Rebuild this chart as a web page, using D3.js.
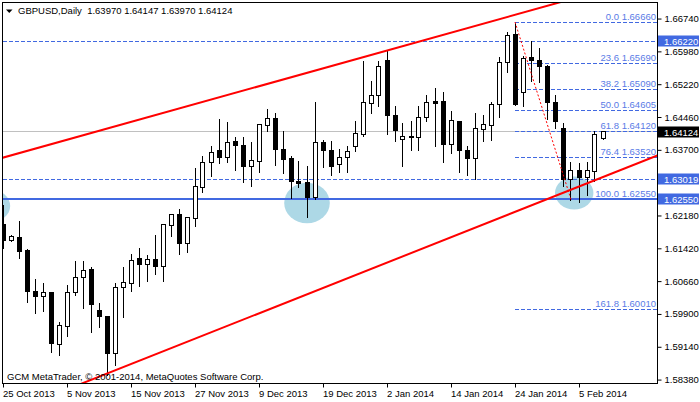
<!DOCTYPE html>
<html>
<head>
<meta charset="utf-8">
<script src="https://cdn.jsdelivr.net/npm/d3@7.9.0/dist/d3.min.js"></script>
<style>
  html, body { margin: 0; padding: 0; background: #fff; }
  svg { display: block; font-family: "Liberation Sans", Arial, sans-serif; }
</style>
</head>
<body>
<svg id="chart" width="700" height="402"></svg>
<script>
// ================================
// Chart data (GBPUSD daily, 76 bars)
// ================================
const symbolTitle = "GBPUSD,Daily";
const lastQuote = "1.63970 1.64147 1.63970 1.64124";
const copyright = "GCM MetaTrader, \u00a9 2001-2014, MetaQuotes Software Corp.";

const opens = [
  1.6198, 1.6161, 1.6168, 1.6137, 1.6043, 1.6031, 1.6039, 1.5920, 1.5962, 1.6039,
  1.6075, 1.6094, 1.5999, 1.5985, 1.5899, 1.6052, 1.6060, 1.6119, 1.6105, 1.6116,
  1.6101, 1.6194, 1.6221, 1.6152, 1.6211, 1.6283, 1.6341, 1.6369, 1.6352, 1.6390,
  1.6381, 1.6331, 1.6343, 1.6426, 1.6443, 1.6371, 1.6349, 1.6296, 1.6295, 1.6259,
  1.6387, 1.6368, 1.6336, 1.6352, 1.6377, 1.6406, 1.6478, 1.6496, 1.6578, 1.6450,
  1.6394, 1.6402, 1.6398, 1.6446, 1.6482, 1.6483, 1.6383, 1.6436, 1.6368, 1.6349,
  1.6417, 1.6427, 1.6476, 1.6573, 1.6636, 1.6502, 1.6584, 1.6578, 1.6564, 1.6480,
  1.6419, 1.6302, 1.6322, 1.6306, 1.6320, 1.63970
];
const highs = [
  1.6244, 1.6173, 1.6206, 1.6141, 1.6072, 1.6063, 1.6042, 1.5973, 1.6059, 1.6114,
  1.6114, 1.6101, 1.6017, 1.5987, 1.6063, 1.6099, 1.6130, 1.6145, 1.6128, 1.6175,
  1.6198, 1.6223, 1.6234, 1.6216, 1.6329, 1.6356, 1.6381, 1.6442, 1.6435, 1.6402,
  1.6402, 1.6390, 1.6430, 1.6465, 1.6456, 1.6415, 1.6358, 1.6346, 1.6333, 1.6483,
  1.6395, 1.6392, 1.6372, 1.6379, 1.6437, 1.6576, 1.6531, 1.6578, 1.6600, 1.6472,
  1.6433, 1.6438, 1.6472, 1.6497, 1.6515, 1.6506, 1.6462, 1.6439, 1.6381, 1.6457,
  1.6451, 1.6482, 1.6585, 1.6644, 1.6666, 1.6588, 1.6624, 1.6607, 1.6567, 1.6497,
  1.6434, 1.6342, 1.6341, 1.6344, 1.6415, 1.64147
];
const lows = [
  1.6145, 1.6159, 1.6121, 1.6019, 1.5993, 1.5999, 1.5903, 1.5897, 1.5941, 1.6036,
  1.6005, 1.5950, 1.5962, 1.5849, 1.5872, 1.5983, 1.6044, 1.6055, 1.6068, 1.6084,
  1.6067, 1.6171, 1.6130, 1.6135, 1.6194, 1.6273, 1.6310, 1.6340, 1.6343, 1.6325,
  1.6297, 1.6287, 1.6320, 1.6414, 1.6335, 1.6317, 1.6259, 1.6285, 1.6215, 1.6257,
  1.6331, 1.6312, 1.6320, 1.6320, 1.6368, 1.6403, 1.6456, 1.6472, 1.6408, 1.6392,
  1.6333, 1.6371, 1.6371, 1.6438, 1.6379, 1.6343, 1.6363, 1.6320, 1.6312, 1.6304,
  1.6392, 1.6395, 1.6447, 1.6552, 1.6474, 1.6472, 1.6531, 1.6528, 1.6443, 1.6422,
  1.6287, 1.6255, 1.6250, 1.6267, 1.6300, 1.63970
];
const closes = [
  1.6159, 1.6170, 1.6135, 1.6042, 1.6031, 1.6039, 1.5922, 1.5964, 1.6040, 1.6075,
  1.6091, 1.6012, 1.5983, 1.5898, 1.6052, 1.6062, 1.6114, 1.6104, 1.6116, 1.6101,
  1.6196, 1.6221, 1.6152, 1.6214, 1.6284, 1.6341, 1.6364, 1.6352, 1.6387, 1.6379,
  1.6331, 1.6346, 1.6428, 1.6443, 1.6371, 1.6347, 1.6297, 1.6292, 1.6259, 1.6387,
  1.6368, 1.6331, 1.6353, 1.6366, 1.6408, 1.6480, 1.6496, 1.6563, 1.6449, 1.6415,
  1.6402, 1.6398, 1.6446, 1.6479, 1.6477, 1.6383, 1.6437, 1.6368, 1.6349, 1.6419,
  1.6428, 1.6476, 1.6573, 1.6635, 1.6476, 1.6582, 1.6577, 1.6562, 1.6480, 1.6436,
  1.6302, 1.6322, 1.6306, 1.6321, 1.6406, 1.64124
];

// date axis: bar index of each label
const dateTickBars = [0, 8, 16, 24, 32, 40, 48, 56, 64, 72];
const dateTickLabels = [
  "25 Oct 2013", "5 Nov 2013", "15 Nov 2013", "27 Nov 2013", "9 Dec 2013",
  "19 Dec 2013", "2 Jan 2014", "14 Jan 2014", "24 Jan 2014", "5 Feb 2014"
];
const priceTicks = [
  1.58380, 1.59140, 1.59900, 1.60660, 1.61420, 1.62180,
  1.62940, 1.63700, 1.64460, 1.65220, 1.65980, 1.66740
];

// horizontal levels
const bidPrice = 1.64124;
const dashedLevels = [1.66220, 1.63019];
const solidLevels = [1.62550];

// fibonacci retracement (swing high bar 64 -> swing low bar 71)
const fibRatios = ["0.0", "23.6", "38.2", "50.0", "61.8", "76.4", "100.0", "161.8"];
const fibPrices = [1.66660, 1.65690, 1.65090, 1.64605, 1.64120, 1.63520, 1.62550, 1.60010];
const fibHigh = [64, 1.66660];
const fibLow = [71, 1.62550];

// channel trend lines: [bar, price] anchors
const upperChannel = [[0, 1.6352], [48, 1.6600]];
const lowerChannel = [[13, 1.5852], [72, 1.6285]];

// highlighted support zones (ellipses): centre bar / price, half span in bars / price
const zoneBars = [-1.6, 38.0, 71.4];
const zonePrices = [1.6240, 1.6247, 1.6270];
const zoneBarSpan = [2.5, 2.85, 2.4];
const zonePriceSpan = [0.0038, 0.0047, 0.0038];

// ================================
// Layout + scales
// ================================
const plotLeft = 3, plotRight = 657, plotTop = 3, plotBottom = 383;
const blue = "#4169e1";
const fontSize = "9.5px";

const x = d3.scaleLinear().domain([0, 81.75]).range([plotLeft, plotRight]);
const y = d3.scaleLinear().domain([1.58301, 1.67100]).range([plotBottom, plotTop]);
const crisp = (v) => Math.floor(v) + 0.5;

const bars = opens.map((o, i) => ({
  i, o, h: highs[i], l: lows[i], c: closes[i]
}));

const svg = d3.select("#chart");
svg.append("rect").attr("width", 700).attr("height", 402).attr("fill", "#fff");

svg.append("defs").append("clipPath").attr("id", "plot-clip")
  .append("rect")
  .attr("x", plotLeft).attr("y", plotTop)
  .attr("width", plotRight - plotLeft).attr("height", plotBottom - plotTop);

const plot = svg.append("g").attr("clip-path", "url(#plot-clip)");

// ================================
// Zones (light blue ellipses)
// ================================
plot.selectAll("ellipse.zone")
  .data(zoneBars)
  .join("ellipse")
  .attr("class", "zone")
  .attr("cx", (d) => x(d))
  .attr("cy", (d, i) => y(zonePrices[i]))
  .attr("rx", (d, i) => x(d + zoneBarSpan[i]) - x(d))
  .attr("ry", (d, i) => y(zonePrices[i] - zonePriceSpan[i]) - y(zonePrices[i]))
  .attr("fill", "#add8e6");

// ================================
// Horizontal lines
// ================================
const levels = plot.append("g").attr("shape-rendering", "crispEdges");

levels.append("line")
  .attr("x1", plotLeft).attr("x2", plotRight)
  .attr("y1", crisp(y(bidPrice))).attr("y2", crisp(y(bidPrice)))
  .attr("stroke", "#c0c0c0");

levels.selectAll("line.dash-level")
  .data(dashedLevels)
  .join("line")
  .attr("class", "dash-level")
  .attr("x1", plotLeft).attr("x2", plotRight)
  .attr("y1", (d) => crisp(y(d))).attr("y2", (d) => crisp(y(d)))
  .attr("stroke", blue)
  .attr("stroke-dasharray", "4,2");

levels.selectAll("line.solid-level")
  .data(solidLevels)
  .join("line")
  .attr("class", "solid-level")
  .attr("x1", plotLeft).attr("x2", plotRight)
  .attr("y1", (d) => Math.round(y(d))).attr("y2", (d) => Math.round(y(d)))
  .attr("stroke", blue)
  .attr("stroke-width", 2);

// fib levels
levels.selectAll("line.fib")
  .data(fibPrices)
  .join("line")
  .attr("class", "fib")
  .attr("x1", x(fibHigh[0])).attr("x2", plotRight)
  .attr("y1", (d) => crisp(y(d))).attr("y2", (d) => crisp(y(d)))
  .attr("stroke", blue)
  .attr("stroke-dasharray", "4,2");

plot.selectAll("text.fib-label")
  .data(fibPrices)
  .join("text")
  .attr("class", "fib-label")
  .attr("x", plotRight - 1)
  .attr("y", (d) => crisp(y(d)) - 2.5)
  .attr("text-anchor", "end")
  .attr("font-size", fontSize)
  .attr("fill", "#5a7be6")
  .text((d, i) => `${fibRatios[i]} ${d.toFixed(5)}`);

// ================================
// Candles
// ================================
const candle = plot.selectAll("g.candle")
  .data(bars)
  .join("g")
  .attr("class", "candle")
  .attr("shape-rendering", "crispEdges");

candle.append("line")
  .attr("x1", (d) => crisp(x(d.i))).attr("x2", (d) => crisp(x(d.i)))
  .attr("y1", (d) => crisp(y(d.h))).attr("y2", (d) => crisp(y(d.l)) + 1)
  .attr("stroke", "#000");

candle.append("rect")
  .attr("x", (d) => crisp(x(d.i)) - 2)
  .attr("width", 4)
  .attr("y", (d) => crisp(y(Math.max(d.o, d.c))))
  .attr("height", (d) => crisp(y(Math.min(d.o, d.c))) - crisp(y(Math.max(d.o, d.c))))
  .attr("fill", (d) => (d.c >= d.o ? "#fff" : "#000"))
  .attr("stroke", "#000");

// ================================
// Trend lines + fib diagonal
// ================================
function extend(pts) {
  const [[b0, p0], [b1, p1]] = pts;
  const slope = (p1 - p0) / (b1 - b0);
  const [d0, d1] = x.domain();
  return [[d0 - 2, p0 + (d0 - 2 - b0) * slope], [d1 + 2, p0 + (d1 + 2 - b0) * slope]];
}
const lineGen = d3.line().x((d) => x(d[0])).y((d) => y(d[1]));

plot.selectAll("path.channel")
  .data([upperChannel, lowerChannel])
  .join("path")
  .attr("class", "channel")
  .attr("d", (d) => lineGen(extend(d)))
  .attr("fill", "none")
  .attr("stroke", "#ff0000")
  .attr("stroke-width", 2);

plot.append("path")
  .attr("d", lineGen([fibHigh, fibLow]))
  .attr("fill", "none")
  .attr("stroke", "#ff0000")
  .attr("stroke-dasharray", "2,2");

// ================================
// Frame + axes
// ================================
const frame = svg.append("g").attr("stroke", "#000").attr("shape-rendering", "crispEdges");
frame.append("line").attr("x1", 2.5).attr("x2", 2.5).attr("y1", 2).attr("y2", 384);
frame.append("line").attr("x1", 2).attr("x2", 658).attr("y1", 2.5).attr("y2", 2.5);
frame.append("line").attr("x1", plotRight + 0.5).attr("x2", plotRight + 0.5).attr("y1", 2).attr("y2", 384);
frame.append("line").attr("x1", 2).attr("x2", 658).attr("y1", plotBottom + 0.5).attr("y2", plotBottom + 0.5);

const boxLevels = [
  { p: dashedLevels[0], fill: blue },
  { p: bidPrice, fill: "#000" },
  { p: dashedLevels[1], fill: blue },
  { p: solidLevels[0], fill: blue }
];

const yAxis = d3.axisRight(y)
  .tickValues(priceTicks)
  .tickSize(4)
  .tickPadding(3)
  .tickFormat(d3.format(".5f"));

const yAxisG = svg.append("g")
  .attr("transform", `translate(${plotRight + 0.5},0)`)
  .call(yAxis);
yAxisG.select(".domain").remove();
yAxisG.selectAll("text")
  .attr("font-size", fontSize)
  .attr("font-family", null)
  .attr("fill", "#000")
  .style("display", (d) => (boxLevels.some((b) => Math.abs(y(b.p) - y(d)) < 8) ? "none" : null));
yAxisG.selectAll("line").attr("stroke", "#000");

const xAxis = d3.axisBottom(x)
  .tickValues(dateTickBars)
  .tickSize(4)
  .tickPadding(3)
  .tickFormat((d, i) => dateTickLabels[i]);

const xAxisG = svg.append("g")
  .attr("transform", `translate(0,${plotBottom + 0.5})`)
  .call(xAxis);
xAxisG.select(".domain").remove();
xAxisG.selectAll("text")
  .attr("font-size", fontSize)
  .attr("font-family", null)
  .attr("text-anchor", "start")
  .attr("x", -0.5)
  .attr("fill", "#000");
xAxisG.selectAll("line").attr("stroke", "#000");

// ================================
// Price boxes on the axis
// ================================
const box = svg.selectAll("g.price-box")
  .data(boxLevels)
  .join("g")
  .attr("class", "price-box");

box.append("rect")
  .attr("x", plotRight + 1)
  .attr("y", (d) => Math.round(y(d.p)) - 5.5)
  .attr("width", 41)
  .attr("height", 11)
  .attr("fill", (d) => d.fill);

box.append("text")
  .attr("x", plotRight + 7)
  .attr("y", (d) => Math.round(y(d.p)) + 3.5)
  .attr("font-size", fontSize)
  .attr("fill", "#fff")
  .text((d) => d.p.toFixed(5));

// ================================
// Title + copyright
// ================================
svg.append("path")
  .attr("d", "M6,9.5L12.5,9.5L9.25,13Z")
  .attr("fill", "#000");

svg.append("text")
  .attr("x", 18).attr("y", 14)
  .attr("font-size", fontSize)
  .style("white-space", "pre")
  .text(`${symbolTitle}  ${lastQuote}`);

svg.append("text")
  .attr("x", 7).attr("y", 380)
  .attr("font-size", fontSize)
  .text(copyright);
</script>
</body>
</html>
